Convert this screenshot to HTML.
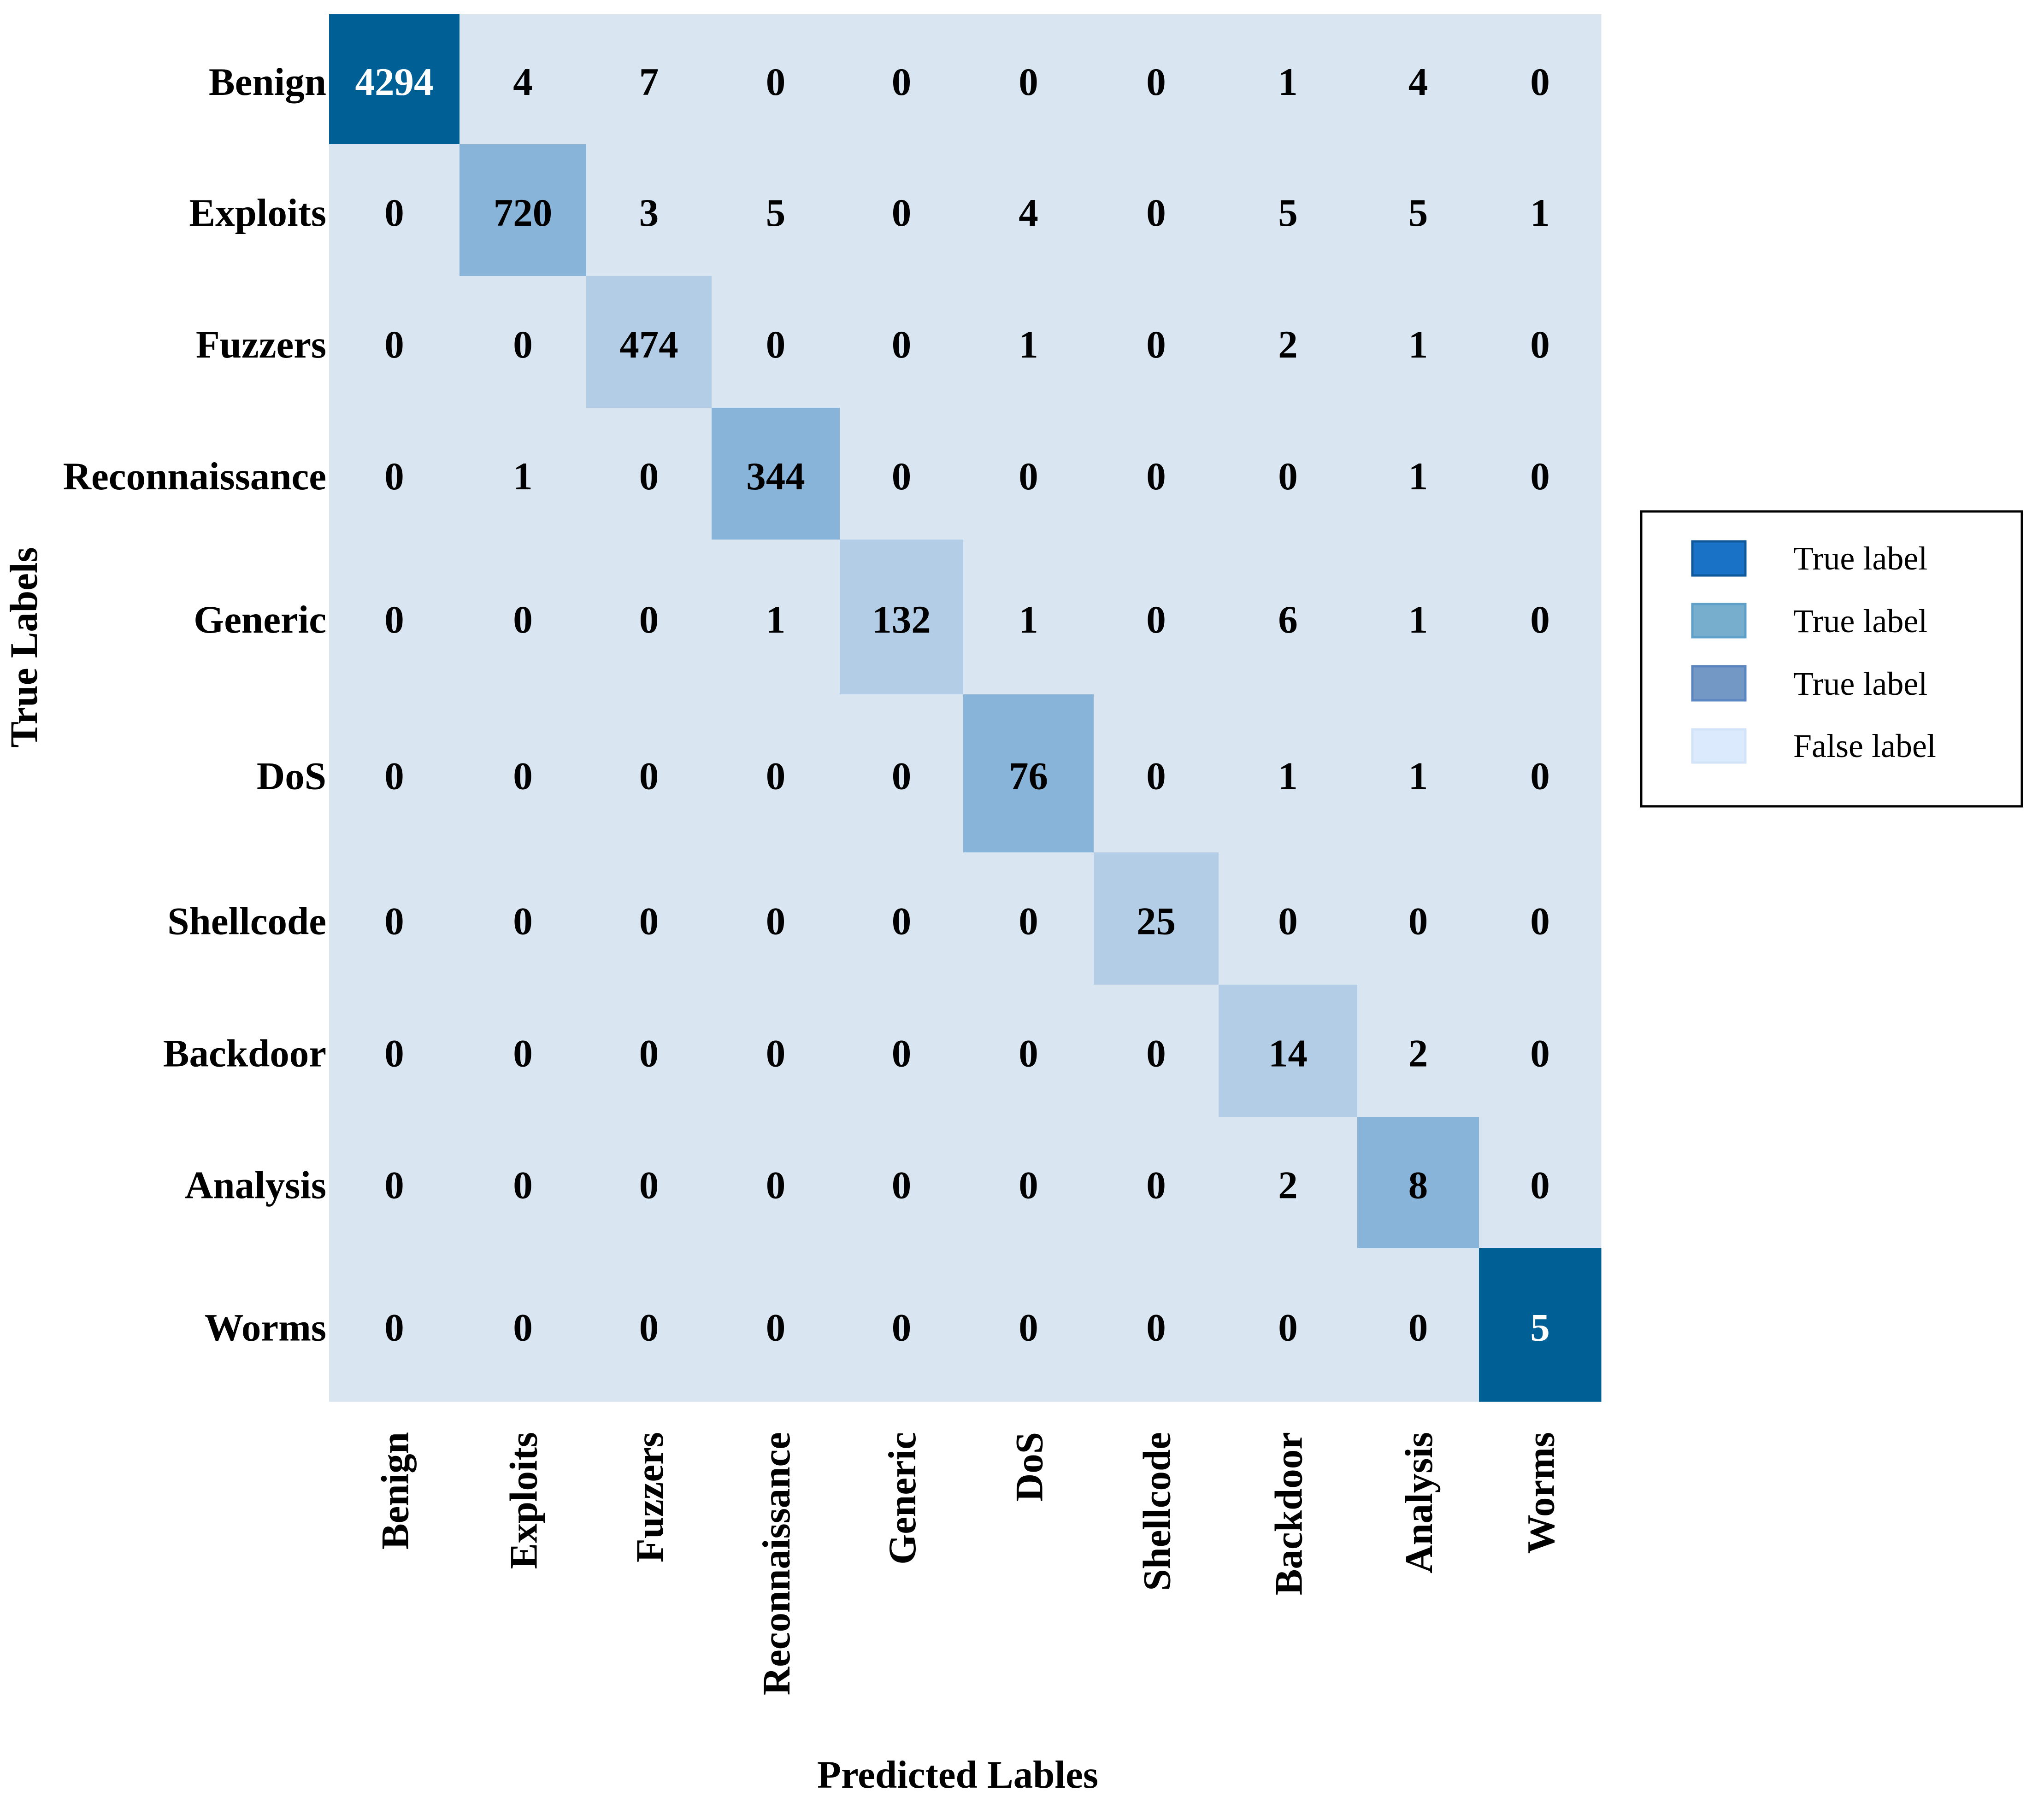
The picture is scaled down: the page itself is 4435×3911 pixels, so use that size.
<!DOCTYPE html>
<html><head><meta charset="utf-8"><style>
html,body{margin:0;padding:0;background:#fff;}
svg{display:block;font-family:"Liberation Serif",serif;}
</style></head><body>
<svg id="chart" width="4435" height="3911" viewBox="0 0 4435 3911" xmlns="http://www.w3.org/2000/svg">
<g id="cells"></g>
<g id="vals"></g>
<g id="ylabs"></g>
<g id="xlabs"></g>
<text transform="translate(80,1405) rotate(-90)" text-anchor="middle" font-size="85" font-weight="bold">True Labels</text>
<text x="2078" y="3880" text-anchor="middle" font-size="85" font-weight="bold">Predicted Lables</text>
<g>
<rect x="3561" y="1110" width="826" height="640" fill="#fff" stroke="#000" stroke-width="5"/>
<rect x="3672" y="1175" width="115" height="74" fill="#1a72c7" stroke="#0f5a9a" stroke-width="5"/>
<text x="3891" y="1236" font-size="72">True label</text>
<rect x="3672" y="1311" width="115" height="72" fill="#78aecd" stroke="#5ea0c8" stroke-width="5"/>
<text x="3891" y="1372" font-size="72">True label</text>
<rect x="3672" y="1446" width="115" height="74" fill="#7498c6" stroke="#5b86bf" stroke-width="5"/>
<text x="3891" y="1508" font-size="72">True label</text>
<rect x="3672" y="1583" width="115" height="72" fill="#dbeafd" stroke="#d3e3f8" stroke-width="5"/>
<text x="3891" y="1643" font-size="72">False label</text>
</g>
</svg>
<script>
const categories = ["Benign","Exploits","Fuzzers","Reconnaissance","Generic","DoS","Shellcode","Backdoor","Analysis","Worms"];
const row0 = [4294,4,7,0,0,0,0,1,4,0];
const row1 = [0,720,3,5,0,4,0,5,5,1];
const row2 = [0,0,474,0,0,1,0,2,1,0];
const row3 = [0,1,0,344,0,0,0,0,1,0];
const row4 = [0,0,0,1,132,1,0,6,1,0];
const row5 = [0,0,0,0,0,76,0,1,1,0];
const row6 = [0,0,0,0,0,0,25,0,0,0];
const row7 = [0,0,0,0,0,0,0,14,2,0];
const row8 = [0,0,0,0,0,0,0,2,8,0];
const row9 = [0,0,0,0,0,0,0,0,0,5];
const matrix = [row0,row1,row2,row3,row4,row5,row6,row7,row8,row9];
const diagShade = ["dark","mid","light","mid","light","mid","light","light","mid","dark"];

// layout (pixel boundaries of the grid)
const xEdges = [714,997,1272,1544,1822,2090,2373,2644,2945,3209,3474];
const yEdges = [31,313,599,885,1171,1507,1850,2137,2424,2709,3042];
const shadeColor = {dark:"#005f95", mid:"#89b4d9", light:"#b2cde5", off:"#d9e6f2"};
function xAt(i){return xEdges[i];}
function yAt(i){return yEdges[i];}

const NS="http://www.w3.org/2000/svg";
const gC=document.getElementById('cells'), gV=document.getElementById('vals');
const gY=document.getElementById('ylabs'), gX=document.getElementById('xlabs');
for(let r=0;r<matrix.length;r++){
  for(let c=0;c<matrix[r].length;c++){
    const shade = r===c ? diagShade[r] : "off";
    const rect=document.createElementNS(NS,'rect');
    
    
    rect.setAttribute('x',xAt(c)); rect.setAttribute('y',yAt(r));
    rect.setAttribute('width',xAt(c+1)-xAt(c)+0.5); rect.setAttribute('height',yAt(r+1)-yAt(r)+0.5);
    rect.setAttribute('fill',shadeColor[shade]);
    gC.appendChild(rect);
    const t=document.createElementNS(NS,'text');
    
    
    t.setAttribute('x',(xAt(c)+xAt(c+1))/2); t.setAttribute('y',(yAt(r)+yAt(r+1))/2+34);
    t.setAttribute('text-anchor','middle'); t.setAttribute('font-size','85'); t.setAttribute('font-weight','bold');
    t.setAttribute('fill', shade==="dark" ? "#fff" : "#000");
    t.textContent=matrix[r][c];
    gV.appendChild(t);
  }
}
categories.forEach((name,i)=>{
  const t=document.createElementNS(NS,'text');
  
  
  t.setAttribute('x',708); t.setAttribute('y',(yAt(i)+yAt(i+1))/2+34);
  t.setAttribute('text-anchor','end'); t.setAttribute('font-size','85'); t.setAttribute('font-weight','bold');
  t.textContent=name; gY.appendChild(t);
  const u=document.createElementNS(NS,'text');
  
  
  const cx=(xAt(i)+xAt(i+1))/2+30;
  u.setAttribute('transform','translate('+cx+',3108) rotate(-90)');
  u.setAttribute('text-anchor','end'); u.setAttribute('font-size','85'); u.setAttribute('font-weight','bold');
  u.textContent=name; gX.appendChild(u);
});
</script>
</body></html>
